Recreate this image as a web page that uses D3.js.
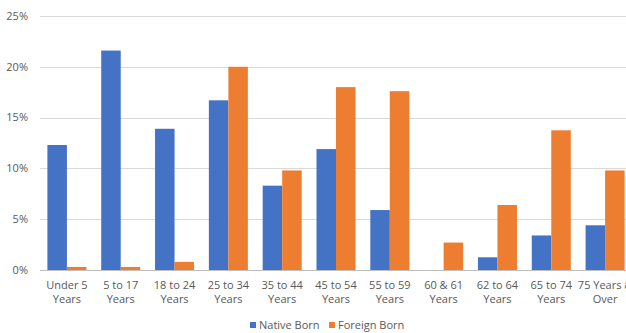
<!DOCTYPE html>
<html>
<head>
<meta charset="utf-8">
<script src="https://cdn.jsdelivr.net/npm/d3@7"></script>
<style>
  html, body { margin: 0; padding: 0; background: #fff; overflow: hidden; }
  svg { display: block; font-family: "Open Sans", "Liberation Sans", sans-serif; }
</style>
</head>
<body>
<svg id="chart" width="626" height="333"></svg>
<script>
(function () {
    'use strict';

    const categories = [
        ['Under 5', 'Years'], ['5 to 17', 'Years'], ['18 to 24', 'Years'], ['25 to 34', 'Years'],
        ['35 to 44', 'Years'], ['45 to 54', 'Years'], ['55 to 59', 'Years'], ['60 & 61', 'Years'],
        ['62 to 64', 'Years'], ['65 to 74', 'Years'], ['75 Years &', 'Over']
    ];
    const nativeBorn = [12.3, 21.6, 13.9, 16.7, 8.3, 11.9, 5.9, 0, 1.25, 3.4, 4.4];
    const foreignBorn = [0.3, 0.3, 0.8, 20.0, 9.8, 18.0, 17.6, 2.7, 6.4, 13.75, 9.8];
    const seriesNames = ['Native Born', 'Foreign Born'];
    const yTicks = [0, 5, 10, 15, 20, 25];

    const colors = ['#4472c4', '#ed7d31'];
    const textColor = '#595959';

    const svg = d3.select('#chart');
    const left = 40, right = 632, top = 16, bottom = 270;

    const keys = categories.map((c) => c.join(' '));
    const x = d3.scaleBand().domain(keys).range([left, right])
        .paddingInner(0.275).paddingOuter(0.1375);
    const xs = d3.scaleBand().domain([0, 1]).range([0, x.bandwidth()]);
    const y = d3.scaleLinear().domain([0, 25]).range([bottom, top]);

    // gridlines
    svg.append('g')
        .selectAll('line')
        .data(yTicks.slice(1))
        .join('line')
        .attr('x1', left).attr('x2', 626)
        .attr('y1', (d) => Math.round(y(d)) + 0.5)
        .attr('y2', (d) => Math.round(y(d)) + 0.5)
        .attr('stroke', '#d9d9d9');

    // y labels
    svg.append('g')
        .selectAll('text')
        .data(yTicks)
        .join('text')
        .attr('x', 28)
        .attr('y', (d) => y(d))
        .attr('dy', '0.35em')
        .attr('text-anchor', 'end')
        .attr('font-size', 11)
        .attr('fill', textColor)
        .text((d) => d + '%');

    // bars
    const series = [nativeBorn, foreignBorn];
    series.forEach((vals, si) => {
        svg.append('g')
            .selectAll('rect')
            .data(vals)
            .join('rect')
            .attr('x', (d, i) => x(keys[i]) + xs(si))
            .attr('width', xs.bandwidth())
            .attr('y', (d) => y(d))
            .attr('height', (d) => y(0) - y(d))
            .attr('fill', colors[si]);
    });

    // baseline
    svg.append('line')
        .attr('x1', left).attr('x2', 626)
        .attr('y1', bottom + 0.5).attr('y2', bottom + 0.5)
        .attr('stroke', '#bfbfbf');

    // x labels
    const xl = svg.append('g')
        .selectAll('text')
        .data(categories)
        .join('text')
        .attr('x', (d, i) => x(keys[i]) + x.bandwidth() / 2)
        .attr('y', 289)
        .attr('text-anchor', 'middle')
        .attr('font-size', 11)
        .attr('fill', textColor);
    xl.append('tspan').text((d) => d[0]);
    xl.append('tspan')
        .attr('x', (d, i) => x(keys[i]) + x.bandwidth() / 2)
        .attr('dy', 13.5)
        .text((d) => d[1]);

    // legend
    const legendX = [250, 329];
    seriesNames.forEach((name, i) => {
        const g = svg.append('g').attr('transform', `translate(${legendX[i]},325)`);
        g.append('rect').attr('x', 0).attr('y', -3).attr('width', 6).attr('height', 6).attr('fill', colors[i]);
        g.append('text')
            .attr('x', 9).attr('y', 0).attr('dy', '0.35em')
            .attr('font-size', 11)
            .attr('fill', textColor)
            .text(name);
    });
})();
</script>
</body>
</html>
